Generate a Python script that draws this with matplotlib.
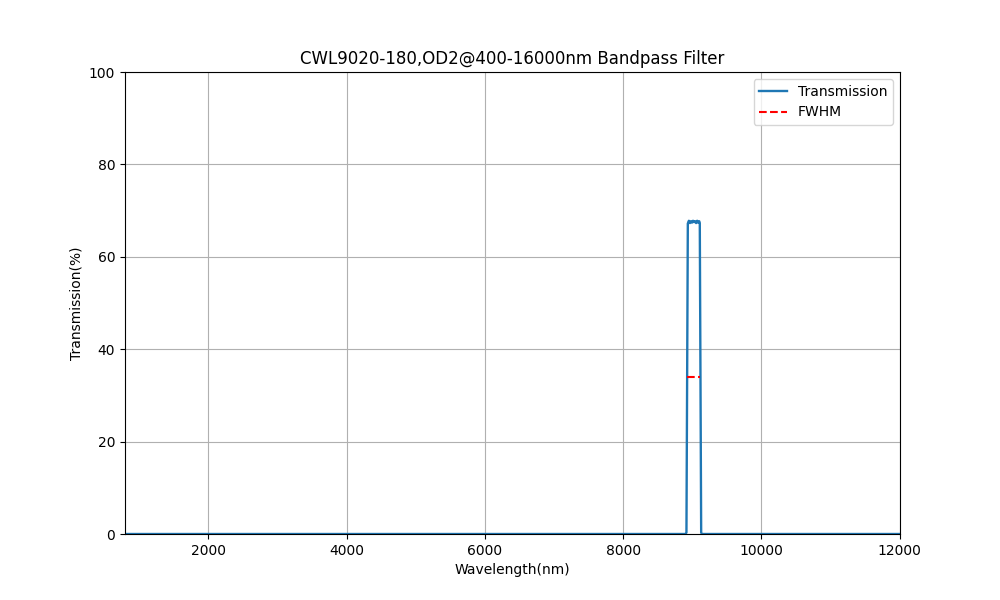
import matplotlib
matplotlib.use("Agg")
import matplotlib.pyplot as plt

wavelength = [794, 8900, 8915, 8935, 8950, 8965, 8980, 8995, 9010, 9025, 9040, 9055, 9070, 9085, 9100, 9108, 9128, 9140, 12004]
transmission = [0, 0, 0.3, 67.2, 67.8, 67.3, 67.7, 67.4, 67.8, 67.5, 67.7, 67.3, 67.8, 67.4, 67.7, 67.3, 0.3, 0, 0]
fwhm_x = [8930, 9110]
fwhm_y = [34, 34]

fig, ax = plt.subplots(figsize=(10, 6), dpi=100)
ax.plot(wavelength, transmission, color="#1f77b4", linewidth=1.7, label="Transmission")
ax.plot(fwhm_x, fwhm_y, "r--", label="FWHM")
ax.set_xlim(794, 12004)
ax.set_ylim(0, 100)
ax.set_xlabel("Wavelength(nm)")
ax.set_ylabel("Transmission(%)")
ax.set_title("CWL9020-180,OD2@400-16000nm Bandpass Filter")
ax.grid(True)
ax.legend(loc="upper right")
fig.savefig("out.png")
